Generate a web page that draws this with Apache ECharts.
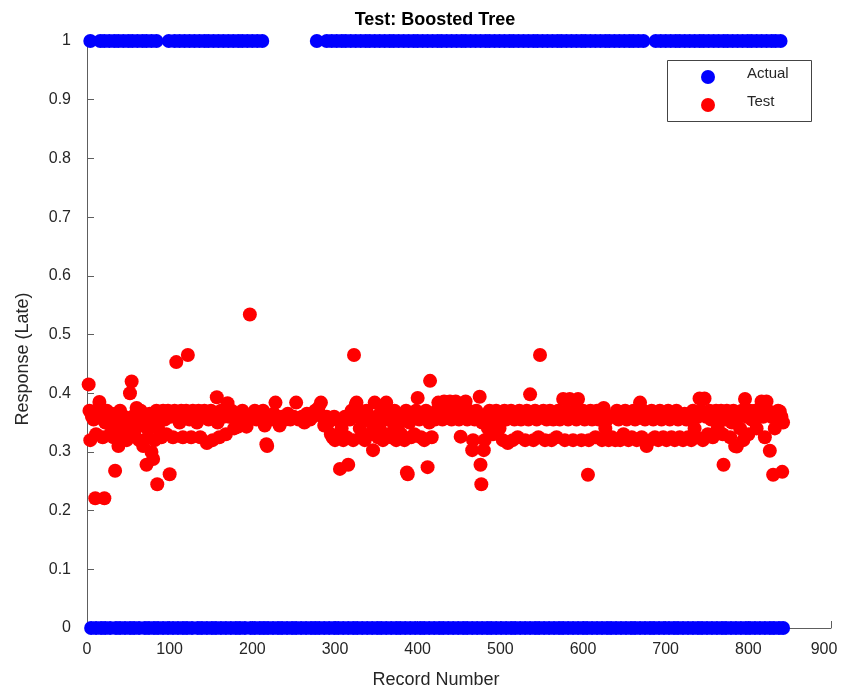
<!DOCTYPE html>
<html><head><meta charset="utf-8">
<script src="https://cdn.jsdelivr.net/npm/echarts@6/dist/echarts.min.js"></script>
<style>html,body{margin:0;padding:0;background:#fff}#c{width:841px;height:692px}</style>
</head><body><div id="c"></div>
<script>
// ---- data ----
const titleText = 'Test: Boosted Tree';
const xAxisTitle = 'Record Number';
const yAxisTitle = 'Response (Late)';
const seriesNames = ['Actual', 'Test'];
const xRange = [0, 900, 100];   // min, max, step
const yRange = [0, 1, 0.1];

// record numbers whose actual response is 1
const actualOneRecords = [4,16,21,27,33,38,44,50,55,61,67,72,78,84,99,106,112,118,124,130,136,142,147,153,159,165,171,177,183,188,194,200,206,212,
278,290,296,302,308,313,319,325,331,337,342,348,354,360,366,371,377,383,389,395,400,406,412,418,424,429,435,441,447,453,458,464,470,476,482,487,493,499,505,511,516,522,528,534,540,545,551,557,563,569,574,580,586,592,598,603,609,615,621,627,632,638,644,650,656,661,667,673,688,694,700,706,712,717,723,729,735,741,746,752,758,764,770,775,781,787,793,799,804,810,816,822,828,833,839];
// record numbers whose actual response is 0
const actualZeroRecords = [5,11,17,22,28,35,40,46,52,57,63,70,75,81,86,92,98,104,110,116,121,127,134,139,145,151,156,162,168,174,180,185,191,198,203,209,214,219,225,231,236,242,248,253,259,265,271,276,281,287,293,299,304,310,316,322,327,333,339,345,351,356,362,368,374,379,385,391,397,403,408,414,420,426,431,437,443,449,455,460,466,472,478,484,489,495,501,507,513,518,524,530,536,542,547,553,559,565,571,576,582,588,594,600,605,611,617,623,629,634,640,646,652,658,663,669,675,681,686,692,698,704,710,715,721,727,733,739,744,750,756,762,768,773,779,785,791,797,802,808,814,820,826,831,837,842];

// [record, predicted response] for the test set
const testPoints = [
[2,0.415],[3,0.37],[4,0.32],[6,0.36],[8,0.355],[10,0.221],[11,0.33],[13,0.37],[15,0.385],[17,0.36],[19,0.325],[21,0.221],[22,0.35],[24,0.37],[26,0.36],[28,0.33],[30,0.365],[32,0.325],[34,0.268],[35,0.345],[37,0.36],[38,0.31],[40,0.37],[41,0.34],[43,0.33],[45,0.36],[46,0.35],[48,0.32],[50,0.345],[52,0.40],[54,0.42],[55,0.36],[57,0.33],[58,0.34],[60,0.375],[62,0.355],[63,0.32],[65,0.37],[66,0.345],[68,0.31],[70,0.36],[72,0.278],[73,0.34],[74,0.325],[76,0.365],[78,0.30],[80,0.288],[81,0.35],[82,0.32],[84,0.37],[85,0.245],[86,0.34],[88,0.36],[90,0.325],[92,0.37],[94,0.355],[96,0.33],[98,0.37],[100,0.262],[101,0.36],[104,0.325],[106,0.37],[108,0.453],[110,0.36],[112,0.35],[114,0.37],[116,0.325],[118,0.36],[120,0.37],[122,0.465],[124,0.355],[126,0.325],[128,0.37],[130,0.36],[133,0.35],[135,0.37],[137,0.325],[140,0.36],[142,0.37],[145,0.315],[147,0.355],[150,0.37],[152,0.32],[155,0.36],[157,0.393],[158,0.35],[160,0.325],[162,0.37],[165,0.36],[168,0.33],[170,0.383],[172,0.36],[175,0.37],[178,0.34],[180,0.355],[183,0.343],[185,0.36],[188,0.37],[190,0.35],[193,0.343],[195,0.355],[197,0.534],[200,0.36],[203,0.37],[205,0.355],[208,0.365],[210,0.36],[213,0.37],[215,0.345],[217,0.313],[218,0.31],[220,0.36],[223,0.355],[226,0.365],[228,0.384],[230,0.36],[233,0.345],[236,0.36],[240,0.355],[243,0.365],[246,0.355],[250,0.36],[253,0.384],[256,0.355],[260,0.36],[263,0.35],[266,0.365],[270,0.355],[273,0.36],[276,0.37],[280,0.375],[283,0.384],[285,0.36],[287,0.345],[290,0.36],[292,0.35],[295,0.33],[297,0.325],[299,0.36],[300,0.32],[302,0.355],[304,0.325],[306,0.271],[308,0.34],[310,0.32],[312,0.36],[314,0.325],[316,0.278],[318,0.355],[320,0.37],[322,0.32],[323,0.465],[325,0.38],[326,0.384],[328,0.36],[330,0.34],[332,0.325],[334,0.355],[336,0.32],[338,0.37],[340,0.36],[342,0.33],[344,0.35],[346,0.303],[348,0.384],[350,0.36],[352,0.325],[354,0.34],[356,0.37],[358,0.32],[360,0.355],[362,0.384],[364,0.33],[366,0.36],[368,0.325],[370,0.35],[372,0.37],[374,0.32],[376,0.34],[378,0.36],[380,0.33],[382,0.355],[384,0.32],[386,0.37],[387,0.265],[388,0.262],[390,0.35],[392,0.325],[394,0.36],[396,0.33],[398,0.37],[400,0.392],[402,0.355],[404,0.325],[406,0.36],[408,0.32],[410,0.37],[412,0.274],[414,0.35],[415,0.421],[417,0.325],[419,0.36],[421,0.355],[423,0.37],[425,0.384],[427,0.36],[430,0.355],[432,0.386],[434,0.37],[436,0.36],[439,0.386],[441,0.355],[443,0.37],[446,0.386],[448,0.36],[450,0.355],[452,0.326],[454,0.37],[456,0.36],[458,0.386],[460,0.355],[462,0.37],[464,0.36],[466,0.303],[467,0.32],[469,0.355],[471,0.37],[473,0.36],[475,0.394],[476,0.278],[477,0.245],[478,0.35],[480,0.303],[481,0.32],[483,0.36],[485,0.34],[487,0.37],[489,0.355],[491,0.33],[493,0.36],[495,0.37],[497,0.355],[499,0.34],[501,0.36],[503,0.32],[505,0.37],[507,0.355],[509,0.315],[511,0.36],[513,0.37],[515,0.32],[517,0.355],[519,0.36],[521,0.325],[523,0.37],[525,0.355],[527,0.36],[530,0.32],[532,0.37],[534,0.355],[536,0.398],[538,0.36],[540,0.32],[542,0.37],[544,0.355],[546,0.325],[548,0.465],[550,0.36],[552,0.37],[554,0.32],[556,0.355],[558,0.36],[560,0.37],[562,0.32],[564,0.355],[566,0.36],[568,0.325],[570,0.37],[572,0.355],[574,0.36],[576,0.39],[578,0.32],[580,0.37],[582,0.355],[584,0.39],[586,0.36],[588,0.32],[590,0.37],[592,0.355],[594,0.39],[596,0.36],[598,0.32],[600,0.37],[602,0.355],[604,0.36],[606,0.261],[607,0.32],[609,0.37],[611,0.355],[613,0.36],[615,0.325],[617,0.37],[619,0.355],[621,0.36],[623,0.32],[625,0.375],[627,0.34],[629,0.355],[631,0.32],[633,0.36],[635,0.325],
[637,0.36],[639,0.32],[641,0.37],[643,0.355],[645,0.32],[647,0.36],[649,0.33],[651,0.37],[653,0.355],[655,0.32],[657,0.36],[659,0.325],[661,0.37],[663,0.355],[665,0.32],[667,0.36],[669,0.384],[671,0.325],[673,0.37],[675,0.355],[677,0.31],[679,0.36],[681,0.32],[683,0.37],[685,0.355],[687,0.325],[689,0.36],[691,0.32],[693,0.37],[695,0.355],[697,0.325],[699,0.36],[701,0.32],[703,0.37],[705,0.355],[707,0.325],[709,0.36],[711,0.32],[713,0.37],[715,0.355],[717,0.325],[719,0.36],[721,0.32],[723,0.365],[725,0.355],[727,0.325],[729,0.36],[731,0.32],[733,0.37],[735,0.34],[737,0.325],[739,0.36],[741,0.391],[743,0.37],[745,0.32],[747,0.391],[749,0.36],[751,0.33],[753,0.37],[755,0.355],[757,0.325],[759,0.36],[761,0.37],[763,0.34],[765,0.36],[767,0.37],[769,0.33],[770,0.278],[772,0.355],[774,0.37],[776,0.36],[778,0.325],[780,0.35],[782,0.37],[784,0.31],[786,0.309],[788,0.36],[790,0.34],[792,0.37],[794,0.32],[796,0.39],[798,0.36],[800,0.33],[802,0.37],[804,0.355],[806,0.36],[808,0.37],[810,0.34],[812,0.36],[814,0.37],[816,0.386],[818,0.36],[820,0.325],[822,0.386],[824,0.37],[826,0.302],[828,0.36],[830,0.261],[832,0.34],[834,0.355],[836,0.37],[838,0.369],[840,0.36],[841,0.266],[842,0.35]
];

// ---- chart ----
const FONT = "'Liberation Sans', Arial, Helvetica, sans-serif";
const TXT = '#262626';
const AX = '#5e5e5e';
const chart = echarts.init(document.getElementById('c'), null, {renderer: 'canvas'});
chart.setOption({
  animation: false,
  backgroundColor: '#ffffff',
  textStyle: {fontFamily: FONT},
  title: {
    text: titleText, left: 430, top: 6, textAlign: 'center',
    textStyle: {fontFamily: FONT, fontSize: 18, fontWeight: 'bold', color: '#000'}
  },
  grid: {left: 87, right: 10, top: 41, bottom: 64, containLabel: false, outerBoundsMode: 'none'},
  xAxis: {
    type: 'value', min: xRange[0], max: xRange[1], interval: xRange[2],
    name: xAxisTitle, nameLocation: 'middle', nameGap: 43,
    nameTextStyle: {fontFamily: FONT, fontSize: 18, color: TXT, padding: [0, 46, 0, 0]},
    axisLine: {show: true, onZero: false, lineStyle: {color: AX, width: 1}},
    axisTick: {show: true, inside: true, length: 7, lineStyle: {color: AX}},
    axisLabel: {
      fontFamily: FONT, fontSize: 16, color: TXT, margin: 14,
      formatter: v => (v === xRange[1] ? '{e|' + v + '}' : String(v)),
      rich: {e: {fontFamily: FONT, fontSize: 16, color: TXT, padding: [0, 14, 0, 0]}}
    },
    splitLine: {show: false}
  },
  yAxis: {
    type: 'value', min: yRange[0], max: yRange[1], interval: yRange[2],
    name: yAxisTitle, nameLocation: 'middle', nameGap: 55,
    nameTextStyle: {fontFamily: FONT, fontSize: 18, color: TXT, padding: [0, 49, 0, 0]},
    axisLine: {show: true, onZero: false, lineStyle: {color: AX, width: 1}},
    axisTick: {show: true, inside: true, length: 7, lineStyle: {color: AX}},
    axisLabel: {fontFamily: FONT, fontSize: 16, color: TXT, margin: 16, padding: [0, 0, 12, 0]},
    splitLine: {show: false}
  },
  legend: {
    data: seriesNames, orient: 'vertical', left: 701, top: 66,
    itemWidth: 68, itemHeight: 14, itemGap: 10, padding: 0,
    selectedMode: false,
    formatter: '{a|{name}}',
    textStyle: {fontFamily: FONT, fontSize: 15, color: TXT,
      rich: {a: {fontFamily: FONT, fontSize: 15, color: TXT, padding: [0, 0, 7, 0]}}}
  },
  graphic: [{
    type: 'rect', z: 1, silent: true,
    shape: {x: 667.5, y: 60.5, width: 144, height: 61},
    style: {fill: '#ffffff', stroke: '#444444', lineWidth: 1}
  }],
  series: [
    {
      name: seriesNames[0], type: 'scatter', symbol: 'circle', symbolSize: 14, clip: false,
      itemStyle: {color: '#0000ff', opacity: 1},
      data: actualOneRecords.map(r => [r, 1]).concat(actualZeroRecords.map(r => [r, 0]))
    },
    {
      name: seriesNames[1], type: 'scatter', symbol: 'circle', symbolSize: 14, clip: false,
      itemStyle: {color: '#ff0000', opacity: 1},
      data: testPoints
    }
  ]
});
</script>
</body></html>
